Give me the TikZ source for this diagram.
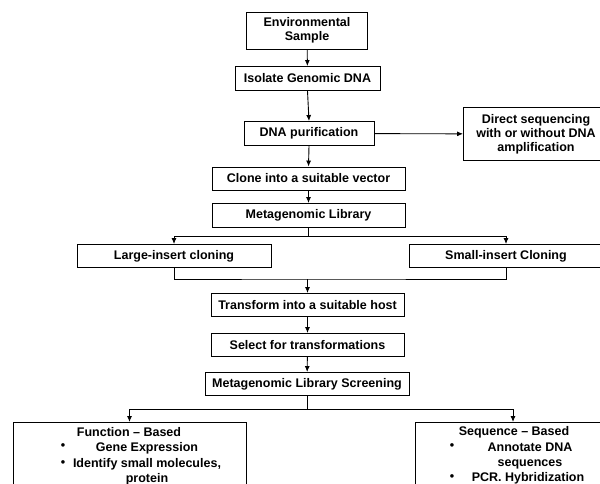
\documentclass[tikz,border=0pt]{standalone}
\usepackage{fontspec}
\setmainfont{Liberation Sans}
\usetikzlibrary{arrows.meta,calc,positioning}
\begin{document}
\begin{tikzpicture}[x=1pt, y=-1pt,
    box/.style={draw, line width=0.9pt, font=\fontsize{12.5}{14}\selectfont\bfseries, align=center, inner sep=1pt},
    txt/.style={font=\fontsize{12.5}{14.5}\selectfont\bfseries, align=center, inner sep=0pt},
    arr/.style={-{Latex[length=6pt,width=5pt]}, line width=0.9pt},
    link/.style={line width=0.9pt}]
    \useasboundingbox (0,0) rectangle (600,484);
    % main column
    \node[box, minimum width=121pt, minimum height=37pt] (env) at (307,30.5) {Environmental\\Sample};
    \node[box, minimum width=145pt, minimum height=24pt] (iso) at (307.5,78.5) {Isolate Genomic DNA};
    \node[box, minimum width=130pt, minimum height=24pt] (pur) at (309,133.5) {DNA purification};
    \node[box, minimum width=145pt, minimum height=53pt] (direct) at (536,134) {Direct sequencing\\with or without DNA\\amplification};
    \node[box, minimum width=193pt, minimum height=23pt] (clone) at (308.5,178.5) {Clone into a suitable vector};
    \node[box, minimum width=193pt, minimum height=24pt] (lib) at (308.5,215.5) {Metagenomic Library};
    \node[box, minimum width=194pt, minimum height=23pt] (large) at (174,256) {Large-insert cloning};
    \node[box, minimum width=194pt, minimum height=23pt] (small) at (506,256) {Small-insert Cloning};
    \node[box, minimum width=193pt, minimum height=23pt] (trans) at (307.5,305) {Transform into a suitable host};
    \node[box, minimum width=193pt, minimum height=23pt] (sel) at (307.5,345) {Select for transformations};
    \node[box, minimum width=204pt, minimum height=23pt] (screen) at (307,384) {Metagenomic Library Screening};
    % screening boxes
    \node[box, minimum width=233pt, minimum height=72pt, anchor=north] (func) at (129.5,422) {};
    \node[box, minimum width=196pt, minimum height=72pt, anchor=north] (seq) at (513,422) {};
    \node[txt] (funchead) at (129,432) {Function -- Based};
    \node[txt] (funcdot1) at (63,447) {\textbullet};
    \node[txt] (funcitem1) at (147,448) {Gene Expression};
    \node[txt] (funcdot2) at (63,464) {\textbullet};
    \node[txt] (funcitem2) at (147,472) {Identify small molecules,\\protein};
    \node[txt] (seqhead) at (514,432) {Sequence -- Based};
    \node[txt] (seqdot1) at (452,447) {\textbullet};
    \node[txt] (seqitem1) at (530,456) {Annotate DNA\\sequences};
    \node[txt] (seqdot2) at (452,478) {\textbullet};
    \node[txt] (seqitem2) at (528,478) {PCR. Hybridization};
    % connectors
    \draw[arr] (env) -- (iso);
    \draw[arr] (iso.south) -- (pur.north);
    \draw[arr] (pur) -- (direct);
    \draw[arr] (pur.south) -- (clone.north);
    \draw[arr] (clone) -- (lib);
    \draw[link] (lib.south) -- ++(0,8) coordinate (split1);
    \draw[arr] (split1) -| (large.north);
    \draw[arr] (split1) -| (small.north);
    \coordinate (merge) at (trans.north |- 0,279);
    \draw[link] (large.south) |- (merge) -| (small.south);
    \draw[arr] (merge) -- (trans.north);
    \draw[arr] (trans) -- (sel);
    \draw[arr] (sel) -- (screen);
    \draw[link] (screen.south) -- ++(0,13) coordinate (split2);
    \draw[arr] (split2) -| (func.north);
    \draw[arr] (split2) -| (seq.north);
\end{tikzpicture}
\end{document}
